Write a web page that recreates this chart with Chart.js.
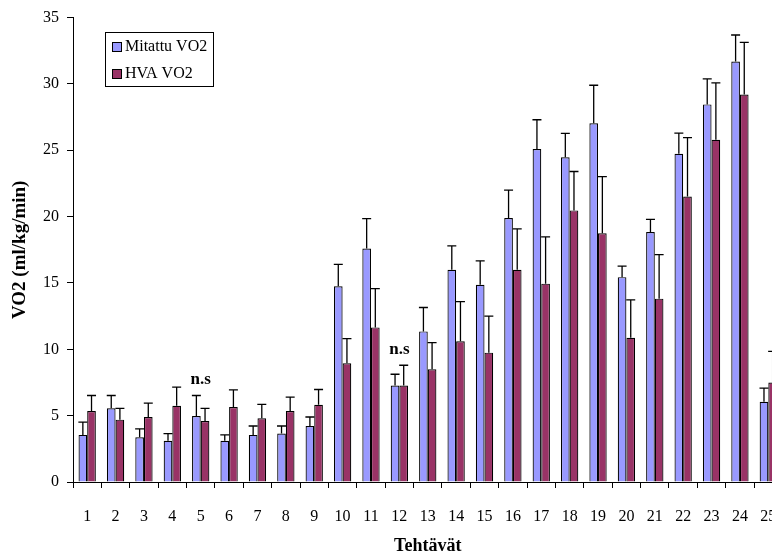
<!DOCTYPE html>
<html>
<head>
<meta charset="utf-8">
<script src="https://cdn.jsdelivr.net/npm/chart.js@4.4.1/dist/chart.umd.min.js"></script>
<style>
    html, body { margin: 0; padding: 0; background: #fff; overflow: hidden; }
    #wrap { position: relative; width: 800px; height: 558px; }
</style>
</head>
<body>
<div id="wrap"><canvas id="chart"></canvas></div>
<script>
// Tehtävät 1..25
const categories = ['1', '2', '3', '4', '5', '6', '7', '8', '9', '10', '11', '12', '13',
    '14', '15', '16', '17', '18', '19', '20', '21', '22', '23', '24', '25'];

// Mitattu VO2 (keskiarvo ja keskihajonta)
const mitattu = [3.55, 5.55, 3.37, 3.1, 4.97, 3.1, 3.55, 3.65, 4.22, 14.75, 17.6, 7.27, 11.35,
    16.0, 14.87, 19.9, 25.1, 24.47, 27.04, 15.44, 18.84, 24.74, 28.46, 31.69, 6.05];
const mitattuSd = [0.97, 0.97, 0.63, 0.55, 1.55, 0.45, 0.67, 0.57, 0.68, 1.65, 2.25, 0.85, 1.8,
    1.8, 1.8, 2.1, 2.2, 1.8, 2.86, 0.83, 0.95, 1.55, 1.92, 2.0, 1.02];

// HVA VO2
const hva = [5.35, 4.7, 4.9, 5.75, 4.6, 5.65, 4.8, 5.35, 5.82, 8.95, 11.65, 7.27, 8.5,
    10.6, 9.75, 16.0, 14.95, 20.47, 18.75, 10.87, 13.82, 21.51, 25.79, 29.21, 7.5];
const hvaSd = [1.17, 0.85, 1.05, 1.4, 0.95, 1.3, 1.05, 1.05, 1.15, 1.85, 2.92, 1.53, 2.0,
    3.0, 2.75, 3.07, 3.52, 2.93, 4.27, 2.85, 3.32, 4.45, 4.29, 3.92, 2.34];

// ei merkitsevä ero
const nsCategories = ['5', '12'];

const colors = {
    mitattu: '#9999ff',
    hva: '#993366',
    line: '#000000'
};
const serif = "'Liberation Serif', 'Times New Roman', serif";
const errors = [mitattuSd, hvaSd];

// error bars (only upward, like the Excel original)
const errorBars = {
    id: 'errorBars',
    afterDatasetsDraw(chart) {
        const ctx = chart.ctx;
        const y = chart.scales.y;
        ctx.save();
        ctx.strokeStyle = colors.line;
        ctx.lineWidth = 1.3;
        chart.data.datasets.forEach((ds, i) => {
            const meta = chart.getDatasetMeta(i);
            meta.data.forEach((bar, j) => {
                const top = y.getPixelForValue(ds.data[j] + errors[i][j]);
                ctx.beginPath();
                ctx.moveTo(bar.x, bar.y);
                ctx.lineTo(bar.x, top);
                ctx.moveTo(bar.x - 4.5, top);
                ctx.lineTo(bar.x + 4.5, top);
                ctx.stroke();
            });
        });
        ctx.restore();
    }
};

// "n.s" marks above the chosen tasks
const nsMarks = {
    id: 'nsMarks',
    afterDatasetsDraw(chart) {
        const ctx = chart.ctx;
        const x = chart.scales.x, y = chart.scales.y;
        ctx.save();
        ctx.fillStyle = '#000';
        ctx.font = 'bold 17px ' + serif;
        ctx.textAlign = 'center';
        ctx.textBaseline = 'middle';
        nsCategories.forEach(cat => {
            const j = categories.indexOf(cat);
            const top = Math.max(mitattu[j] + mitattuSd[j], hva[j] + hvaSd[j]);
            ctx.fillText('n.s', x.getPixelForValue(j), y.getPixelForValue(top) - 16);
        });
        ctx.restore();
    }
};

// boxed legend inside the plot, top left
const boxLegend = {
    id: 'boxLegend',
    afterDraw(chart) {
        const ctx = chart.ctx;
        const left = chart.chartArea.left + 32, top = 32;
        ctx.save();
        ctx.fillStyle = '#fff';
        ctx.fillRect(left, top, 108, 54);
        ctx.strokeStyle = '#000';
        ctx.lineWidth = 1;
        ctx.strokeRect(left + 0.5, top + 0.5, 108, 54);
        ctx.font = '16px ' + serif;
        ctx.textBaseline = 'middle';
        chart.data.datasets.forEach((ds, i) => {
            const cy = top + 15 + i * 27;
            ctx.fillStyle = ds.backgroundColor;
            ctx.fillRect(left + 7, cy - 5, 9, 9);
            ctx.strokeRect(left + 7.5, cy - 4.5, 9, 9);
            ctx.fillStyle = '#000';
            ctx.fillText(ds.label, left + 20, cy);
        });
        ctx.restore();
    }
};

new Chart(document.getElementById('chart'), {
    type: 'bar',
    data: {
        labels: categories,
        datasets: [
            {
                label: 'Mitattu VO2',
                data: mitattu,
                backgroundColor: colors.mitattu,
                borderColor: colors.line,
                borderWidth: 1.2,
                categoryPercentage: 0.61,
                barPercentage: 1.0
            },
            {
                label: 'HVA VO2',
                data: hva,
                backgroundColor: colors.hva,
                borderColor: colors.line,
                borderWidth: 1.2,
                categoryPercentage: 0.61,
                barPercentage: 1.0
            }
        ]
    },
    options: {
        responsive: true, maintainAspectRatio: false,
        animation: false,
        devicePixelRatio: 1,
        layout: { padding: { top: 13, right: 17.5, left: 0, bottom: 0 } },
        plugins: {
            legend: { display: false },
            tooltip: { enabled: false }
        },
        scales: {
            x: {
                offset: true,
                grid: { display: true, drawOnChartArea: false, drawTicks: true, tickLength: 6, color: colors.line, offset: true },
                border: { display: true, color: colors.line, width: 1 },
                ticks: { color: '#000', font: { family: serif, size: 16 }, padding: 19, maxRotation: 0, autoSkip: false },
                title: { display: true, text: 'Tehtävät', color: '#000', font: { family: serif, size: 18, weight: 'bold' }, padding: { top: 0, bottom: 1 } },
                afterFit: s => { s.height = 76; }
            },
            y: {
                min: 0, max: 35,
                grid: { display: true, drawOnChartArea: false, drawTicks: true, tickLength: 6, color: colors.line },
                border: { display: true, color: colors.line, width: 1 },
                ticks: { stepSize: 5, color: '#000', font: { family: serif, size: 16 }, padding: 8 },
                title: { display: true, text: 'VO2 (ml/kg/min)', color: '#000', font: { family: serif, size: 19, weight: 'bold' }, padding: { top: 9, bottom: 0 } },
                afterFit: s => { s.width = 73; }
            }
        }
    },
    plugins: [errorBars, nsMarks, boxLegend]
});
</script>
</body>
</html>
